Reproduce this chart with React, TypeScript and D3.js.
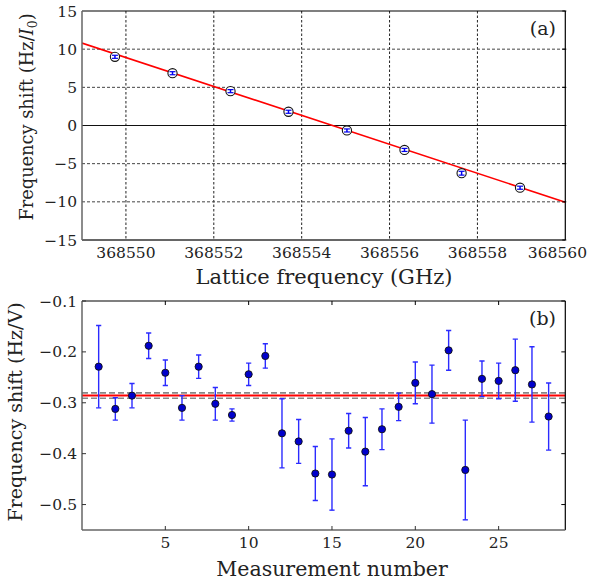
import React from "react";
import * as d3 from "d3";

// Panel (a)
const latticeFreq = [368549.75, 368551.06, 368552.38, 368553.7, 368555.03, 368556.34, 368557.64, 368558.97];
const shiftA = [9.0, 6.85, 4.5, 1.8, -0.65, -3.2, -6.25, -8.15];
const errA = [0.2, 0.2, 0.2, 0.2, 0.2, 0.2, 0.25, 0.2];
const fitX = [368549, 368560];
const fitY = [10.8, -10.05];
const xTicksA = [368550, 368552, 368554, 368556, 368558, 368560];
const yTicksA = [-15, -10, -5, 0, 5, 10, 15];

// Panel (b)
const measurement = [1, 2, 3, 4, 5, 6, 7, 8, 9, 10, 11, 12, 13, 14, 15, 16, 17, 18, 19, 20, 21, 22, 23, 24, 25, 26, 27, 28];
const shiftB = [-0.229, -0.312, -0.286, -0.188, -0.241, -0.31, -0.229, -0.302, -0.324, -0.244, -0.208, -0.36, -0.376, -0.439, -0.441, -0.355, -0.396, -0.352, -0.308, -0.261, -0.283, -0.197, -0.432, -0.253, -0.257, -0.236, -0.264, -0.327];
const errB = [0.081, 0.022, 0.024, 0.025, 0.025, 0.024, 0.023, 0.032, 0.012, 0.022, 0.024, 0.068, 0.043, 0.053, 0.07, 0.034, 0.067, 0.04, 0.027, 0.041, 0.057, 0.039, 0.098, 0.035, 0.035, 0.061, 0.074, 0.066];
const meanB = -0.2856;
const bandB = [-0.2805, -0.291];
const xTicksB = [5, 10, 15, 20, 25];
const yTicksB = [-0.5, -0.4, -0.3, -0.2, -0.1];

const FONT = "'DejaVu Serif', serif";
const L = 82, R = 565.3;

const fmt = (v: number, d = 0) => (v < 0 ? "\u2212" : "") + Math.abs(v).toFixed(d);

export default function App() {
  const xA = d3.scaleLinear().domain([368549, 368560]).range([L, R]);
  const yA = d3.scaleLinear().domain([-15, 15]).range([240, 11]);
  const xB = d3.scaleLinear().domain([0, 29]).range([L, R]);
  const yB = d3.scaleLinear().domain([-0.55, -0.1]).range([530, 301]);

  const fitLine = d3.line<number>().x((_, i) => xA(fitX[i])).y((v) => yA(v))(fitY) || "";
  const lastA = xTicksA[xTicksA.length - 1];

  return (
    <svg width={592} height={586} style={{ position: "absolute", left: 0, top: 0, background: "#fff" }}>
      <defs>
        <clipPath id="clipA"><rect x={L} y={11} width={R - L} height={229} /></clipPath>
        <clipPath id="clipB"><rect x={L} y={301} width={R - L} height={229} /></clipPath>
      </defs>
      {/* ---------- Panel (a) ---------- */}
      <g>
        {xTicksA.slice(0, -1).map((t) => (
          <line key={"gx" + t} x1={xA(t)} x2={xA(t)} y1={11} y2={240} stroke="#222" strokeWidth={1} strokeDasharray="2.5,2" />
        ))}
        {yTicksA.filter((t) => t !== 0 && Math.abs(t) !== 15).map((t) => (
          <line key={"gy" + t} x1={L} x2={R} y1={yA(t)} y2={yA(t)} stroke="#444" strokeWidth={1} strokeDasharray="3,2" />
        ))}
        <line x1={L} x2={R} y1={yA(0)} y2={yA(0)} stroke="#111" strokeWidth={1.2} />
        <path d={fitLine} stroke="#ff0000" strokeWidth={1.6} fill="none" clipPath="url(#clipA)" />
        {latticeFreq.map((f, i) => (
          <g key={"pa" + i}>
            <circle cx={xA(f)} cy={yA(shiftA[i])} r={4.6} fill="#fff" stroke="#111" strokeWidth={1.1} />
            <line x1={xA(f)} x2={xA(f)} y1={yA(shiftA[i] - errA[i])} y2={yA(shiftA[i] + errA[i])} stroke="#0000ee" strokeWidth={1.5} />
            <line x1={xA(f) - 3} x2={xA(f) + 3} y1={yA(shiftA[i] - errA[i])} y2={yA(shiftA[i] - errA[i])} stroke="#0000ee" strokeWidth={1.2} />
            <line x1={xA(f) - 3} x2={xA(f) + 3} y1={yA(shiftA[i] + errA[i])} y2={yA(shiftA[i] + errA[i])} stroke="#0000ee" strokeWidth={1.2} />
          </g>
        ))}
        {/* frame */}
        <line x1={L} x2={R} y1={11} y2={11} stroke="#000" strokeWidth={1.2} />
        <line x1={R} x2={R} y1={11} y2={240} stroke="#000" strokeWidth={1.2} />
        <line x1={L} x2={R} y1={240} y2={240} stroke="#333" strokeWidth={1.4} />
        <line x1={L} x2={L} y1={11} y2={240} stroke="#666" strokeWidth={1.5} />
        {yTicksA.map((t) => (
          <line key={"rt" + t} x1={R - 3} x2={R + 1} y1={yA(t)} y2={yA(t)} stroke="#000" strokeWidth={1} />
        ))}
        {xTicksA.map((t) => (
          <text key={"xa" + t} x={t === lastA ? 587 : xA(t)} y={258} textAnchor={t === lastA ? "end" : "middle"} fontFamily={FONT} fontSize={15.5} fill="#222">{t}</text>
        ))}
        {yTicksA.map((t) => (
          <text key={"ya" + t} x={77} y={yA(t) + 5.5} textAnchor="end" fontFamily={FONT} fontSize={15.5} fill="#222">{fmt(t)}</text>
        ))}
        <text x={324} y={284} textAnchor="middle" fontFamily={FONT} fontSize={21} fill="#222">Lattice frequency (GHz)</text>
        <text transform={`translate(33,${117}) rotate(-90)`} textAnchor="middle" fontFamily={FONT} fontSize={17.8} fill="#222">
          Frequency shift (Hz/<tspan fontStyle="italic">I</tspan><tspan fontSize={12.5} dy={4}>0</tspan><tspan dy={-4}>)</tspan>
        </text>
        <text x={556} y={35} textAnchor="end" fontFamily={FONT} fontSize={19} fill="#222">(a)</text>
      </g>

      {/* ---------- Panel (b) ---------- */}
      <g>
        {bandB.map((v, i) => (
          <line key={"band" + i} x1={L} x2={R} y1={yB(v)} y2={yB(v)} stroke="#888" strokeWidth={1.6} strokeDasharray="6,3" />
        ))}
        <line x1={L} x2={R} y1={yB(meanB)} y2={yB(meanB)} stroke="#ff0000" strokeWidth={2} />
        {measurement.map((m, i) => {
          const x = xB(m);
          const y0 = yB(shiftB[i] - errB[i]);
          const y1 = yB(shiftB[i] + errB[i]);
          return (
            <g key={"pb" + i} clipPath="url(#clipB)">
              <line x1={x} x2={x} y1={y0} y2={y1} stroke="#2b2bff" strokeWidth={1.4} />
              <line x1={x - 2.6} x2={x + 2.6} y1={y0} y2={y0} stroke="#2b2bff" strokeWidth={1.4} />
              <line x1={x - 2.6} x2={x + 2.6} y1={y1} y2={y1} stroke="#2b2bff" strokeWidth={1.4} />
              <circle cx={x} cy={yB(shiftB[i])} r={3.6} fill="#0000cc" stroke="#111" strokeWidth={0.9} />
            </g>
          );
        })}
        {/* frame */}
        <line x1={L} x2={R} y1={301} y2={301} stroke="#000" strokeWidth={1.2} />
        <line x1={R} x2={R} y1={301} y2={530} stroke="#000" strokeWidth={1.2} />
        <line x1={L} x2={R} y1={530} y2={530} stroke="#666" strokeWidth={1.5} />
        <line x1={L} x2={L} y1={301} y2={530} stroke="#666" strokeWidth={1.5} />
        {xTicksB.map((t) => (
          <g key={"xbt" + t}>
            <line x1={xB(t)} x2={xB(t)} y1={530} y2={526} stroke="#333" strokeWidth={1} />
            <line x1={xB(t)} x2={xB(t)} y1={301} y2={305} stroke="#000" strokeWidth={1} />
          </g>
        ))}
        {yTicksB.map((t) => (
          <g key={"ybt" + t}>
            <line x1={L} x2={L + 4} y1={yB(t)} y2={yB(t)} stroke="#333" strokeWidth={1} />
            <line x1={R} x2={R - 4} y1={yB(t)} y2={yB(t)} stroke="#000" strokeWidth={1} />
          </g>
        ))}
        {xTicksB.map((t) => (
          <text key={"xb" + t} x={xB(t)} y={548} textAnchor="middle" fontFamily={FONT} fontSize={15.5} fill="#222">{t}</text>
        ))}
        {yTicksB.map((t) => (
          <text key={"yb" + t} x={77} y={yB(t) + 5.5} textAnchor="end" fontFamily={FONT} fontSize={15.5} fill="#222">{fmt(t, 1)}</text>
        ))}
        <text x={332} y={576} textAnchor="middle" fontFamily={FONT} fontSize={20.5} fill="#222">Measurement number</text>
        <text transform={`translate(22,${412}) rotate(-90)`} textAnchor="middle" fontFamily={FONT} fontSize={19} fill="#222">Frequency shift (Hz/V)</text>
        <text x={556} y={325} textAnchor="end" fontFamily={FONT} fontSize={19} fill="#222">(b)</text>
      </g>
    </svg>
  );
}
